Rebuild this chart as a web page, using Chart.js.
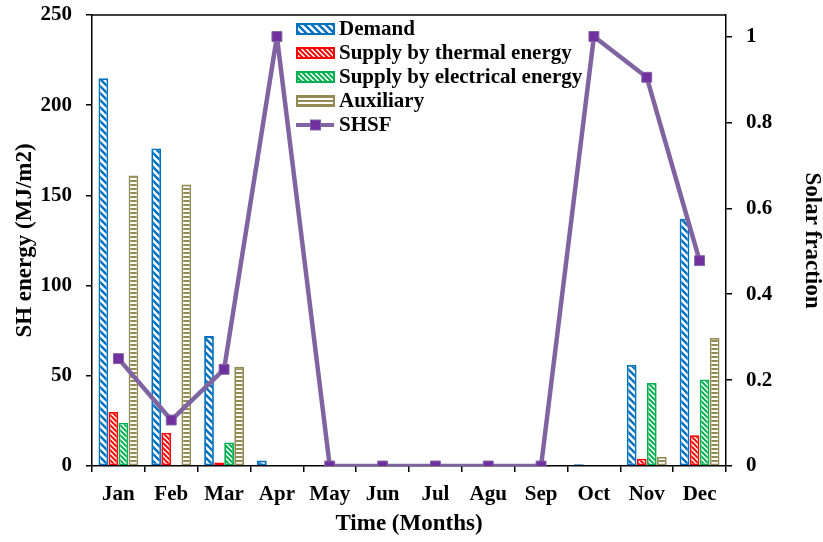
<!DOCTYPE html>
<html>
<head>
<meta charset="utf-8">
<script src="https://cdn.jsdelivr.net/npm/chart.js@4.4.1/dist/chart.umd.min.js"></script>
<style>
  html, body { margin: 0; padding: 0; background: #fff; }
  #wrap { width: 823px; height: 542px; }
</style>
</head>
<body>
<div id="wrap"><canvas id="c" width="823" height="542"></canvas></div>
<script>
const months = ['Jan','Feb','Mar','Apr','May','Jun','Jul','Agu','Sep','Oct','Nov','Dec'];
const demand     = [215, 176, 72, 3, 0, 0, 0, 0, 0, 1, 56, 137];
const thermal    = [30, 18.5, 2, 0, 0, 0, 0, 0, 0, 0, 4, 17];
const electrical = [24, 0, 13, 0, 0, 0, 0, 0, 0, 0, 46, 48];
const auxiliary  = [161, 156, 55, 0, 0, 0, 0, 0, 0, 0, 5, 71];
const shsf       = [0.25, 0.107, 0.225, 1.0, 0, 0, 0, 0, 0, 1.0, 0.905, 0.478];
const leftTicks  = [0, 50, 100, 150, 200, 250];
const rightTicks = [0, 0.2, 0.4, 0.6, 0.8, 1];

const FONT = "'Liberation Serif', 'Times New Roman', serif";

function diagPattern(color, s, lw) {
  const c = document.createElement('canvas'); c.width = s; c.height = s;
  const x = c.getContext('2d');
  x.fillStyle = '#fff'; x.fillRect(0, 0, s, s);
  x.strokeStyle = color; x.lineWidth = lw;
  x.beginPath();
  for (let k = -1; k <= 1; k++) { x.moveTo(-1, k * s - 1); x.lineTo(s + 1, k * s + s + 1); }
  x.stroke();
  return x.createPattern(c, 'repeat');
}
function horizPattern(color, s, lw) {
  const c = document.createElement('canvas'); c.width = s; c.height = s;
  const x = c.getContext('2d');
  x.fillStyle = '#fff'; x.fillRect(0, 0, s, s);
  x.fillStyle = color; x.fillRect(0, 0, s, lw);
  return x.createPattern(c, 'repeat');
}
const ctx0 = document.getElementById('c').getContext('2d');
const BLUE = '#0070C0', RED = '#FF0000', GREEN = '#00B050', OLIVE = '#948A54', PURPLE = '#8064A2', PURPLE_D = '#7030A0';
const pDemand = diagPattern(BLUE, 7, 2.4);
const pThermal = diagPattern(RED, 5, 2);
const pElec = diagPattern(GREEN, 5, 2);
const pAux = horizPattern(OLIVE, 4, 2);

const frame = {
  id: 'frame',
  afterDatasetsDraw(chart) {
    const {ctx, chartArea: a} = chart;
    ctx.save();
    ctx.strokeStyle = '#000'; ctx.lineWidth = 1.5;
    ctx.beginPath(); ctx.moveTo(a.left, a.top); ctx.lineTo(a.right, a.top); ctx.stroke();
    ctx.restore();
  },
  afterDraw(chart) {
    const {ctx} = chart;
    const items = chart.data.datasets;
    const bx = 297, bw = 37, bh = 10, tx = 339;
    const ys = [29, 53, 77, 101, 125];
    ctx.save();
    ctx.font = 'bold 21px ' + FONT;
    ctx.textBaseline = 'middle';
    items.forEach((d, r) => {
      const y = ys[r];
      if (d.type === 'line') {
        ctx.strokeStyle = d.borderColor; ctx.lineWidth = 4;
        ctx.beginPath(); ctx.moveTo(bx - 1, y); ctx.lineTo(bx + bw, y); ctx.stroke();
        ctx.fillStyle = d.pointBackgroundColor; ctx.strokeStyle = d.pointBorderColor; ctx.lineWidth = 1;
        ctx.fillRect(bx + bw / 2 - 5, y - 5, 10, 10);
        ctx.strokeRect(bx + bw / 2 - 5, y - 5, 10, 10);
      } else {
        ctx.fillStyle = d.backgroundColor;
        ctx.fillRect(bx, y - bh / 2, bw, bh);
        ctx.strokeStyle = d.borderColor; ctx.lineWidth = 2;
        ctx.strokeRect(bx, y - bh / 2, bw, bh);
      }
      ctx.fillStyle = '#000';
      ctx.fillText(d.label, tx, y + 1);
    });
    ctx.restore();
  }
};

const barCommon = { type: 'bar', borderWidth: 1.8, borderSkipped: false, categoryPercentage: 0.76, barPercentage: 0.97, order: 1, yAxisID: 'y' };
const tickFont = { family: FONT, size: 21, weight: 'bold' };
const titleFont = { family: FONT, size: 23, weight: 'bold', lineHeight: 1 };

new Chart(ctx0, {
  type: 'bar',
  data: {
    labels: months,
    datasets: [
      Object.assign({}, barCommon, { label: 'Demand', data: demand, backgroundColor: pDemand, borderColor: BLUE }),
      Object.assign({}, barCommon, { label: 'Supply by thermal energy', data: thermal, backgroundColor: pThermal, borderColor: RED }),
      Object.assign({}, barCommon, { label: 'Supply by electrical energy', data: electrical, backgroundColor: pElec, borderColor: GREEN }),
      Object.assign({}, barCommon, { label: 'Auxiliary', data: auxiliary, backgroundColor: pAux, borderColor: OLIVE }),
      { type: 'line', label: 'SHSF', data: shsf, yAxisID: 'y1', order: 0,
        borderColor: PURPLE, borderWidth: 4.5, tension: 0, fill: false, borderJoinStyle: 'round', borderCapStyle: 'round',
        pointStyle: 'rect', pointRadius: 7, pointBackgroundColor: PURPLE_D, pointBorderColor: PURPLE, pointBorderWidth: 1 }
    ]
  },
  plugins: [frame],
  options: {
    responsive: false,
    animation: false,
    layout: { padding: { top: 15, left: 0, right: 0, bottom: 0 } },
    plugins: { legend: { display: false }, tooltip: { enabled: false } },
    scales: {
      x: {
        grid: { display: true, drawOnChartArea: false, drawTicks: true, tickLength: 6, color: '#000', lineWidth: 1.5, offset: true },
        border: { display: true, color: '#000', width: 1.5 },
        ticks: { color: '#000', font: tickFont, padding: 10, maxRotation: 0 },
        title: { display: true, text: 'Time (Months)', color: '#000', font: titleFont, padding: { top: 0, bottom: 6.5 } },
        afterFit(s) { s.height = 76; s.paddingLeft = 0; s.paddingRight = 0; }
      },
      y: {
        position: 'left', min: 0, max: 250,
        afterBuildTicks(s) { s.ticks = leftTicks.map(v => ({ value: v })); },
        grid: { display: true, drawOnChartArea: false, drawTicks: true, tickLength: 6, color: '#000', lineWidth: 1.5 },
        border: { display: true, color: '#000', width: 1.5 },
        ticks: { color: '#000', font: tickFont, padding: 14 },
        title: { display: true, text: 'SH energy (MJ/m2)', color: '#000', font: titleFont, padding: { top: 13.5, bottom: 0 } },
        afterFit(s) { s.width = 92; s.paddingTop = 0; s.paddingBottom = 0; }
      },
      y1: {
        position: 'right', min: 0, max: 1.05,
        afterBuildTicks(s) { s.ticks = rightTicks.map(v => ({ value: v })); },
        grid: { display: true, drawOnChartArea: false, drawTicks: true, tickLength: 6, color: '#000', lineWidth: 1.5 },
        border: { display: true, color: '#000', width: 1.5 },
        ticks: { color: '#000', font: tickFont, padding: 14, callback: v => String(Math.round(v * 10) / 10) },
        title: { display: true, text: 'Solar fraction', color: '#000', font: titleFont, padding: { top: 0, bottom: 0 } },
        afterFit(s) { s.width = 97; s.paddingTop = 0; s.paddingBottom = 0; }
      }
    }
  }
});
</script>
</body>
</html>
